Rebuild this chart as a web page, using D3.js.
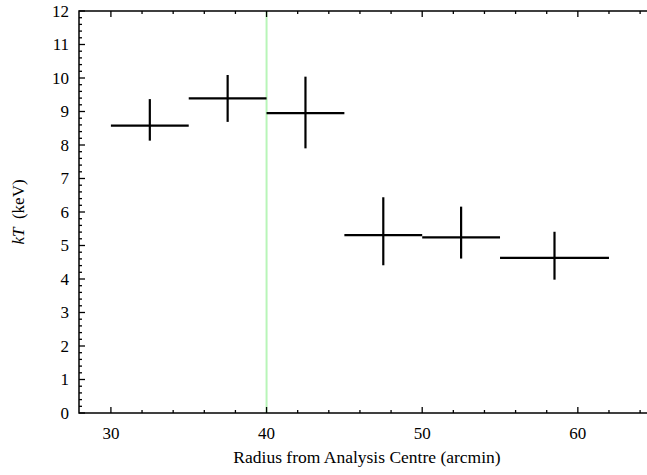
<!DOCTYPE html>
<html>
<head>
<meta charset="utf-8">
<script src="https://cdn.jsdelivr.net/npm/d3@7"></script>
<style>
  body { margin: 0; background: #fff; }
  svg { display: block; }
  text { font-family: "Liberation Serif", "Times New Roman", Times, serif; fill: #000; }
</style>
</head>
<body>
<svg id="chart" width="647" height="475"></svg>
<script>
// bin edges and temperatures
var binLo = [30, 35, 40, 45, 50, 55];
var binHi = [35, 40, 45, 50, 55, 62];
var radius = [32.5, 37.5, 42.5, 47.5, 52.5, 58.5];
var kT = [8.58, 9.39, 8.95, 5.31, 5.24, 4.63];
var kTHi = [9.37, 10.09, 10.04, 6.44, 6.16, 5.41];
var kTLo = [8.13, 8.69, 7.90, 4.41, 4.61, 3.98];
var markerX = [40];
var xTicks = [30, 40, 50, 60];
var yTicks = [0, 1, 2, 3, 4, 5, 6, 7, 8, 9, 10, 11, 12];

(function () {
    var svg = d3.select("#chart"),
        margin = { top: 11, right: -4, bottom: 62, left: 79 },
        width = svg.attr("width") - margin.left - margin.right,
        height = svg.attr("height") - margin.top - margin.bottom,
        g = svg.append("g").attr("transform", "translate(" + margin.left + "," + margin.top + ")");

    var x = d3.scaleLinear().domain([27.95, 64.7]).range([0, width]),
        y = d3.scaleLinear().domain([0, 12]).range([height, 0]);

    var data = radius.map(function (r, i) {
        return { r: r, lo: binLo[i], hi: binHi[i], t: kT[i], tHi: kTHi[i], tLo: kTLo[i] };
    });

    // green marker line
    g.selectAll(".marker")
        .data(markerX)
        .enter().append("line")
        .attr("x1", function (d) { return x(d); })
        .attr("x2", function (d) { return x(d); })
        .attr("y1", 0)
        .attr("y2", height)
        .attr("stroke", "#b8f5b8")
        .attr("stroke-width", 2);

    // ticks (major + minor) on left, bottom, top
    var minorX = d3.range(30, 65, 2).filter(function (v) { return xTicks.indexOf(v) < 0; });
    var minorY = d3.range(0, 12.01, 0.2).map(function (v) { return Math.round(v * 10) / 10; })
        .filter(function (v) { return v % 1 !== 0; });

    function tickLines(sel, vals, len, horiz, base, dir) {
        sel.selectAll(null).data(vals).enter().append("line")
            .attr("x1", function (d) { return horiz ? x(d) : base; })
            .attr("x2", function (d) { return horiz ? x(d) : base + dir * len; })
            .attr("y1", function (d) { return horiz ? base : y(d); })
            .attr("y2", function (d) { return horiz ? base + dir * len : y(d); })
            .attr("stroke", "#000")
            .attr("stroke-width", 1.3);
    }
    var ticks = g.append("g");
    tickLines(ticks, xTicks, 6, true, height, -1);
    tickLines(ticks, minorX, 3, true, height, -1);
    tickLines(ticks, xTicks, 6, true, 0, 1);
    tickLines(ticks, minorX, 3, true, 0, 1);
    tickLines(ticks, yTicks, 6, false, 0, 1);
    tickLines(ticks, minorY, 3, false, 0, 1);

    // frame
    g.append("rect")
        .attr("x", 0).attr("y", 0)
        .attr("width", width).attr("height", height)
        .attr("fill", "none")
        .attr("stroke", "#000")
        .attr("stroke-width", 1.5);

    // tick labels
    g.selectAll(".xlab").data(xTicks).enter().append("text")
        .attr("x", function (d) { return x(d); })
        .attr("y", height + 26)
        .attr("text-anchor", "middle")
        .style("font-size", "17px")
        .text(function (d) { return d; });

    g.selectAll(".ylab").data(yTicks).enter().append("text")
        .attr("x", -10)
        .attr("y", function (d) { return y(d); })
        .attr("dy", "0.33em")
        .attr("text-anchor", "end")
        .style("font-size", "17px")
        .text(function (d) { return d; });

    // axis titles
    svg.append("text")
        .attr("x", 367)
        .attr("y", 463)
        .attr("text-anchor", "middle")
        .style("font-size", "17.5px")
        .text("Radius from Analysis Centre (arcmin)");

    var yt = svg.append("text")
        .attr("transform", "translate(24," + (margin.top + height / 2) + ") rotate(-90)")
        .attr("text-anchor", "middle")
        .style("font-size", "17px");
    yt.append("tspan").style("font-style", "italic").text("kT");
    yt.append("tspan").text("\u00a0 (keV)");

    // error crosses
    var pt = g.selectAll(".pt").data(data).enter().append("g").attr("class", "pt");
    pt.append("line")
        .attr("x1", function (d) { return x(d.lo); })
        .attr("x2", function (d) { return x(d.hi); })
        .attr("y1", function (d) { return y(d.t); })
        .attr("y2", function (d) { return y(d.t); })
        .attr("stroke", "#000")
        .attr("stroke-width", 2.2);
    pt.append("line")
        .attr("x1", function (d) { return x(d.r); })
        .attr("x2", function (d) { return x(d.r); })
        .attr("y1", function (d) { return y(d.tLo); })
        .attr("y2", function (d) { return y(d.tHi); })
        .attr("stroke", "#000")
        .attr("stroke-width", 2.2);
})();
</script>
</body>
</html>
